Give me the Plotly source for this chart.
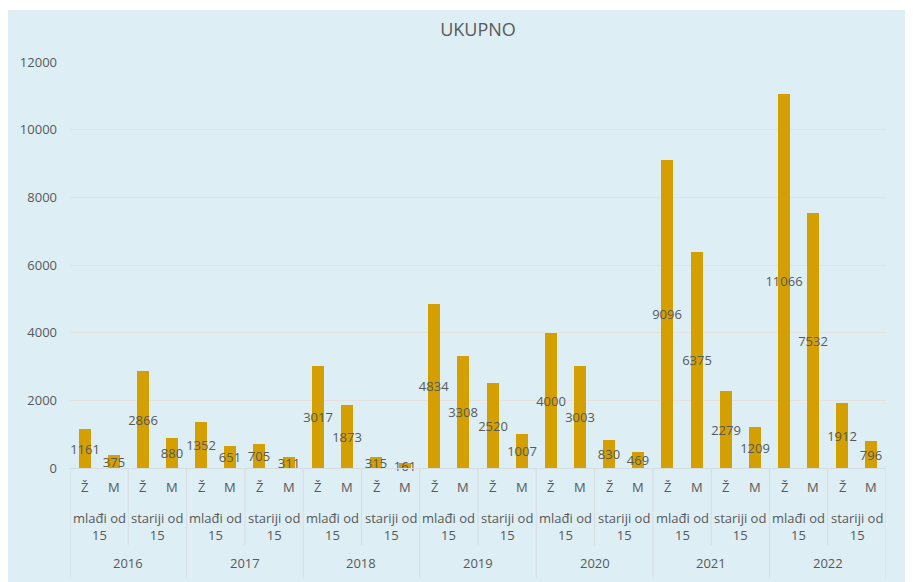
import plotly.graph_objects as go

years = ["2016", "2017", "2018", "2019", "2020", "2021", "2022"]
age_groups = ["mlađi od<br>15", "stariji od<br>15"]
sexes = ["Ž", "M"]
# values per year: [mlađi Ž, mlađi M, stariji Ž, stariji M]
values_2016 = [1161, 375, 2866, 880]
values_2017 = [1352, 651, 705, 311]
values_2018 = [3017, 1873, 315, 161]
values_2019 = [4834, 3308, 2520, 1007]
values_2020 = [4000, 3003, 830, 469]
values_2021 = [9096, 6375, 2279, 1209]
values_2022 = [11066, 7532, 1912, 796]
y_ticks = [0, 2000, 4000, 6000, 8000, 10000, 12000]

all_values = (values_2016 + values_2017 + values_2018 + values_2019
              + values_2020 + values_2021 + values_2022)
n = len(all_values)
xs = list(range(n))

# page has an 8px body margin; figure sized to fit the window
OFF = 8
W, H = 913 - OFF, 582 - OFF
plot_l, plot_r, plot_t, plot_b = 70, 886, 62, 468   # reference pixels
ml, mr = plot_l - OFF, (913 - plot_r)
mt, mb = plot_t - OFF, (582 - plot_b)
pw, ph = plot_r - plot_l, plot_b - plot_t

def py_to_paper(py):
    return (plot_b - py) / ph

gray = "#595959"
bar_color = "#D49F00"
font_fam = "Open Sans, Noto Sans, sans-serif"

fig = go.Figure()
fig.add_trace(go.Bar(
    x=xs, y=all_values, width=0.41,
    marker=dict(color=bar_color, line=dict(width=0)),
    text=[str(v) for v in all_values],
    textposition="inside", insidetextanchor="middle",
    constraintext="none", textangle=0,
    textfont=dict(family=font_fam, size=13, color=gray),
    cliponaxis=False,
    hoverinfo="x+y",
))

annotations = []
shapes = []

lab_font = dict(family=font_fam, size=13, color=gray)

for i in xs:
    annotations.append(dict(x=i, y=py_to_paper(487), xref="x", yref="paper",
                            xanchor="center", yanchor="middle",
                            text=sexes[i % 2], showarrow=False, font=lab_font))

for yi, yr in enumerate(years):
    for gi, ag in enumerate(age_groups):
        cx = yi * 4 + gi * 2 + 0.5
        annotations.append(dict(x=cx, y=py_to_paper(526), xref="x", yref="paper",
                                xanchor="center", yanchor="middle",
                                text=ag, showarrow=False, font=lab_font))
    annotations.append(dict(x=yi * 4 + 1.5, y=py_to_paper(563), xref="x", yref="paper",
                            xanchor="center", yanchor="middle",
                            text=yr, showarrow=False, font=lab_font))

line_col = "#D6DDE1"
for k in range(n // 2 + 1):
    xb = k * 2 - 0.5
    yb = py_to_paper(578) if k % 2 == 0 else py_to_paper(545)
    shapes.append(dict(type="line", xref="x", yref="paper", x0=xb, x1=xb,
                       y0=0, y1=yb, line=dict(color=line_col, width=1)))

# thin white strip at the very top, as in the reference
shapes.append(dict(type="rect", xref="paper", yref="paper", layer="below",
                   x0=-1, x1=2, y0=py_to_paper(10), y1=py_to_paper(0),
                   fillcolor="white", line=dict(width=0)))

fig.update_layout(
    width=W, height=H,
    margin=dict(l=ml, r=mr, t=mt, b=mb),
    paper_bgcolor="#DDEEF5",
    plot_bgcolor="rgba(0,0,0,0)",
    title=dict(text="UKUPNO", x=0.5, xref="paper", y=1 - (30 - OFF) / H, yanchor="middle",
               font=dict(family=font_fam, size=18, color=gray)),
    showlegend=False,
    annotations=annotations,
    shapes=shapes,
    bargap=0,
)
fig.update_xaxes(range=[-0.5, n - 0.5], showticklabels=False, showgrid=False,
                 zeroline=False, showline=True, linecolor="#D6DDE1", linewidth=1,
                 ticks="")
fig.update_yaxes(range=[0, 12000], tickvals=y_ticks, ticktext=[str(v) for v in y_ticks],
                 ticks="", showgrid=True, gridcolor="#E4E2DE", gridwidth=1,
                 zeroline=False, showline=False,
                 tickfont=dict(family=font_fam, size=13, color=gray),
                 ticklabelstandoff=12)

fig.write_html("out.html")
